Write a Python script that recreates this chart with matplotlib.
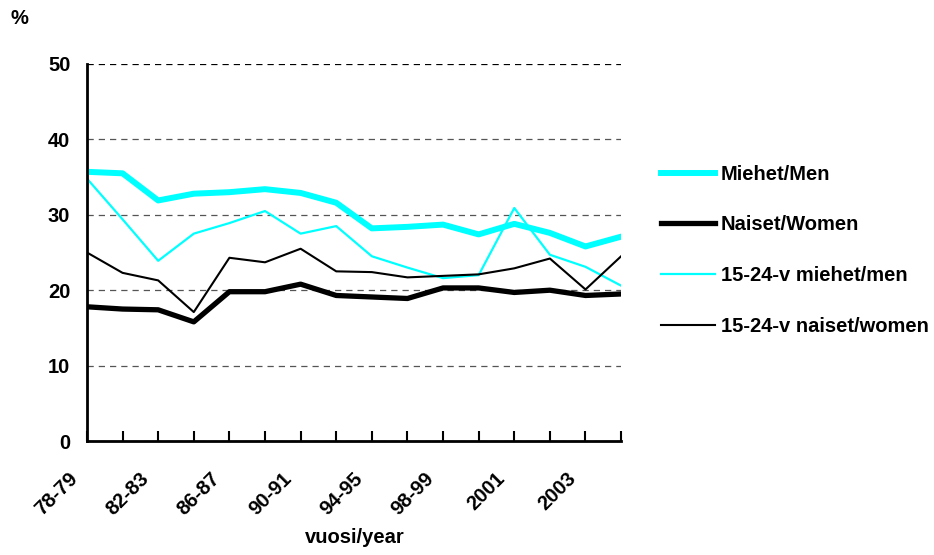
import matplotlib
matplotlib.use("Agg")
import matplotlib.pyplot as plt
import matplotlib.transforms as mtransforms
import numpy as np

# --------------------------------------------------------------------------- #
# Data
# --------------------------------------------------------------------------- #
periods = ["78-79", "80-81", "82-83", "84-85", "86-87", "88-89", "90-91",
           "92-93", "94-95", "96-97", "98-99", "2000", "2001", "2002",
           "2003", "2004"]

men = [35.7, 35.5, 31.9, 32.8, 33.0, 33.4, 32.9, 31.6, 28.2, 28.4, 28.7,
       27.4, 28.8, 27.6, 25.8, 27.1]
women = [17.8, 17.5, 17.4, 15.8, 19.8, 19.8, 20.8, 19.3, 19.1, 18.9, 20.3,
         20.3, 19.7, 20.0, 19.3, 19.5]
young_men = [34.8, 29.4, 23.9, 27.5, 28.9, 30.5, 27.5, 28.5, 24.5, 23.0,
             21.6, 22.0, 30.9, 24.7, 23.1, 20.6]
young_women = [25.0, 22.3, 21.3, 17.1, 24.3, 23.7, 25.5, 22.5, 22.4, 21.7,
               21.9, 22.1, 22.9, 24.2, 20.1, 24.5]

labels = ["Miehet/Men", "Naiset/Women", "15-24-v miehet/men",
          "15-24-v naiset/women"]

CYAN = "#00FFFF"
FONT = ["Liberation Sans", "DejaVu Sans"]
FS = 14.5

plt.rcParams["font.family"] = FONT
plt.rcParams["font.weight"] = "bold"

fig = plt.figure(figsize=(9.34, 5.55), dpi=100)
ax = fig.add_axes([0.0931, 0.2054, 0.665 - 0.0931, 0.8847 - 0.2054])

x = np.arange(len(periods))
ax.plot(x, men, color=CYAN, lw=4.3, label=labels[0])
ax.plot(x, women, color="black", lw=3.8, label=labels[1])
ax.plot(x, young_men, color=CYAN, lw=1.6, label=labels[2])
ax.plot(x, young_women, color="black", lw=1.5, label=labels[3])

ax.set_xlim(0, len(periods) - 1)
ax.set_ylim(0, 50)
ax.set_yticks([0, 10, 20, 30, 40, 50])
ax.yaxis.grid(True, linestyle=(0, (5, 4)), color="#555555", lw=0.9)
ax.set_axisbelow(True)
ax.yaxis.get_gridlines()[-1].set_color("black")

# x labels: every second period, rotated, anchored at their right end
ax.set_xticks(x)
ax.set_xticklabels([p if i % 2 == 0 else "" for i, p in enumerate(periods)],
                   rotation=45, ha="right", va="center",
                   rotation_mode="anchor", fontsize=FS, fontweight="bold")
ax.tick_params(axis="x", direction="in", length=7, width=1.5, pad=25)
shift = mtransforms.ScaledTranslation(-12 / 100, 0, fig.dpi_scale_trans)
for lab in ax.get_xticklabels():
    lab.set_transform(lab.get_transform() + shift)
ax.tick_params(axis="y", length=0, pad=12, labelsize=FS)

for side in ("top", "right"):
    ax.spines[side].set_visible(False)
for side in ("left", "bottom"):
    ax.spines[side].set_linewidth(2)

fig.text(0.380, 0.032, "vuosi/year", ha="center", va="center",
         fontsize=FS, fontweight="bold")
fig.text(0.011, 0.967, "%", ha="left", va="center",
         fontsize=FS, fontweight="bold")

fig.legend(loc="center left", bbox_to_anchor=(0.688, 0.549),
           frameon=False, handlelength=2.68, handletextpad=0.3,
           labelspacing=1.57, prop={"weight": "bold", "size": FS})

fig.savefig("out.png", dpi=100)
